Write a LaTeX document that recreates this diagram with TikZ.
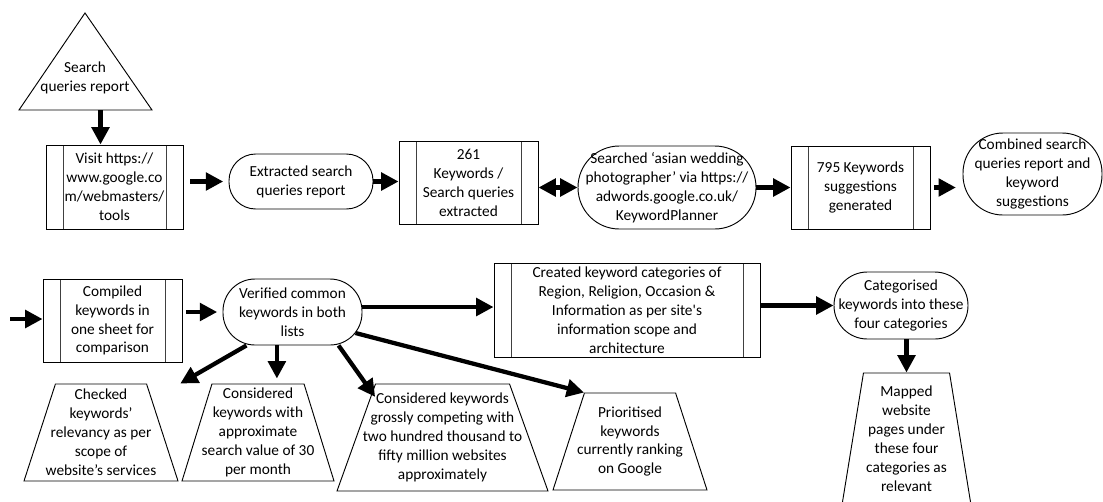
\documentclass[tikz,border=0pt]{standalone}
\usepackage{fontspec}
\setmainfont{Carlito}[Ligatures=TeXOff]
\usetikzlibrary{arrows.meta,shapes.geometric}

\begin{document}
\begin{tikzpicture}[x=0.75pt,y=-0.75pt,
  every node/.style={font=\fontsize{11.5}{14.2}\selectfont, align=center, inner sep=1pt},
  subproc/.style={draw, line width=0.7pt, minimum width=104.25pt, minimum height=62.25pt,
    path picture={\draw[black!75, line width=0.7pt]
      ([xshift=12.75pt]path picture bounding box.north west) -- ([xshift=12.75pt]path picture bounding box.south west)
      ([xshift=-12.75pt]path picture bounding box.north east) -- ([xshift=-12.75pt]path picture bounding box.south east);}},
  term/.style={draw, line width=0.7pt, rounded corners=#1},
  manop/.style={draw, line width=0.7pt, trapezium, trapezium stretches},
  flow/.style={line width=3.2pt, -{Triangle[length=13pt,width=13pt]}},
  flowboth/.style={line width=3.2pt, {Triangle[length=13pt,width=13pt]}-{Triangle[length=13pt,width=13pt]}}]
  \useasboundingbox (0,0) rectangle (1103,501);

  % top row
  \coordinate (tA) at (85,13);
  \coordinate (tL) at (19,110);
  \coordinate (tR) at (152,110);
  \draw[line width=0.7pt] (tA) -- (tR) -- (tL) -- cycle;
  \node (report) at (85,78) {Search\\queries report};
  \node[subproc, minimum width=102.75pt, minimum height=63pt] (visit) at (114.5,187) {Visit https://\\www.google.co\\m/webmasters/\\tools};
  \node[term=20pt, minimum width=108pt, minimum height=41.25pt] (extr) at (301,181.5) {Extracted search\\queries report};
  \node[subproc] (kw261) at (468.5,182.5) {261\\Keywords /\\Search queries\\extracted};
  \node[term=31pt, minimum width=133.5pt, minimum height=62.25pt] (plan) at (667,187.5) {Searched ‘asian wedding\\photographer’ via https://\\adwords.google.co.uk/\\KeywordPlanner};
  \node[subproc] (kw795) at (860.5,187.5) {795 Keywords\\suggestions\\generated};
  \node[term=30pt, minimum width=104.25pt, minimum height=61.5pt] (comb) at (1032.5,174) {Combined search\\queries report and\\keyword\\suggestions};

  \draw[flow] ([xshift=-10.5pt]visit.north |- tL) -- ([xshift=-10.5pt]visit.north);
  \draw[flow] ([xshift=5pt]visit.east |- extr) -- ([xshift=-4pt]extr.west);
  \draw[flow] (extr.east) -- (extr.east -| kw261.west);
  \draw[flowboth] (kw261.east |- plan) -- (plan.west);
  \draw[flow] (plan.east) -- (kw795.west);
  \draw[flow] ([xshift=3pt]kw795.east) -- ([xshift=-5pt]kw795.east -| comb.west);

  % second row
  \coordinate (in) at (10,319);
  \node[subproc] (compiled) at (112.5,320.5) {Compiled\\keywords in\\one sheet for\\comparison};
  \node[term=24pt, minimum width=104.25pt, minimum height=49.5pt] (verif) at (292.5,312) {Verified common\\keywords in both\\lists};
  \node[subproc, minimum width=199.5pt, minimum height=70.5pt, inner sep=0pt] (cats) at (627,310) {Created keyword categories of\\Region, Religion, Occasion \&\\Information as per site's\\information scope and\\architecture};
  \node[term=25pt, minimum width=100.5pt, minimum height=50.25pt] (catg) at (901,305.5) {Categorised\\keywords into these\\four categories};

  \node[manop, trapezium angle=71, minimum width=115.5pt, minimum height=72.75pt,
    label={center:{Checked\\keywords’\\relevancy as per\\scope of\\website’s services}}] (chk) at (101,432.5) {};
  \node[manop, trapezium angle=72, minimum width=114pt, minimum height=72.75pt,
    label={center:{Considered\\keywords with\\approximate\\search value of 30\\per month}}] (vol) at (258,432.5) {};
  \node[manop, trapezium angle=74, minimum width=158.25pt, minimum height=80.25pt,
    label={center:{Considered keywords\\grossly competing with\\two hundred thousand to\\fifty million websites\\approximately}}] (comp) at (442.5,437.5) {};
  \node[manop, trapezium angle=71, minimum width=115.5pt, minimum height=72.75pt,
    label={center:{Prioritised\\keywords\\currently ranking\\on Google}}] (prio) at (630,441.5) {};
  \node[manop, trapezium angle=76, minimum width=96.75pt, minimum height=99pt,
    label={center:{Mapped\\website\\pages under\\these four\\categories as\\relevant}}] (map) at (906.5,439) {};

  \draw[flow] (in) -- (in -| compiled.west);
  \draw[flow] ([xshift=3pt]compiled.east |- verif) -- ([xshift=-4pt]verif.west);
  \draw[flow] ([yshift=3.75pt]verif.east) -- ([yshift=3.75pt]verif.east -| cats.west);
  \draw[flow] (cats.east |- catg) -- (catg.west);
  \draw[flow] (map.north |- catg.south) -- (map.north);
  \draw[flow] (verif.216) -- ([xshift=25pt]chk.top right corner);
  \draw[flow, shorten >=3.75pt] (verif.245) -- (verif.245 |- vol.north);
  \draw[flow] (verif.-36) -- ([yshift=-10pt]comp.top left corner);
  \draw[flow] ([xshift=-5.25pt,yshift=-15.75pt]verif.east) -- (prio.top left corner);
\end{tikzpicture}
\end{document}
